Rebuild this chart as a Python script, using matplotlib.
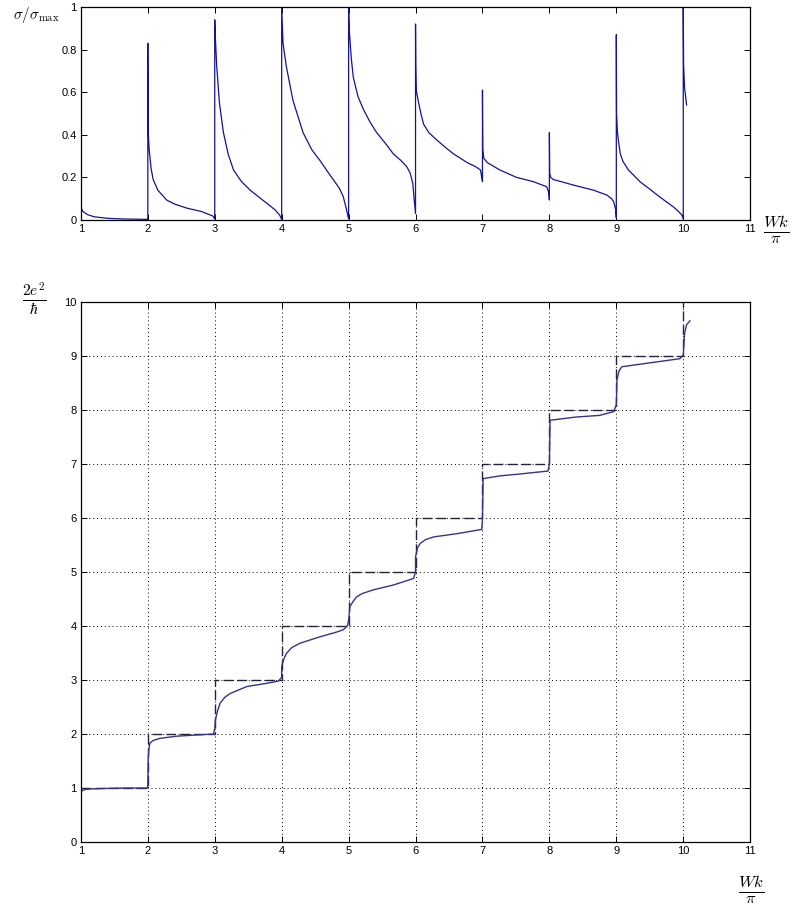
import numpy as np
import matplotlib.pyplot as plt

plt.rcParams['font.family'] = ['Liberation Sans', 'DejaVu Sans']
plt.rcParams['mathtext.fontset'] = 'cm'

# normalised cross section sigma/sigma_max, (x, y) pairs
sig_pts = [
    (1.0, 0.06), (1.03, 0.04), (1.1, 0.025), (1.2, 0.015), (1.4, 0.008),
    (1.6, 0.005), (1.8, 0.004), (1.99, 0.003),
    (2.0, 0.003), (2.0, 0.83), (2.003, 0.57), (2.006, 0.42), (2.02, 0.33),
    (2.05, 0.24), (2.08, 0.19), (2.15, 0.14), (2.28, 0.094), (2.4, 0.075),
    (2.58, 0.056), (2.8, 0.04), (2.97, 0.019), (3.0, 0.005),
    (3.0, 0.94), (3.01, 0.85), (3.03, 0.72), (3.07, 0.55), (3.13, 0.41),
    (3.2, 0.31), (3.28, 0.235), (3.4, 0.18), (3.53, 0.14), (3.65, 0.11),
    (3.78, 0.078), (3.9, 0.048), (3.97, 0.023), (4.0, 0.003),
    (4.0, 1.0), (4.02, 0.83), (4.07, 0.72), (4.17, 0.56), (4.32, 0.41),
    (4.45, 0.33), (4.57, 0.28), (4.68, 0.23), (4.77, 0.19), (4.86, 0.15),
    (4.92, 0.11), (4.97, 0.047), (5.0, 0.005),
    (5.0, 1.0), (5.01, 0.89), (5.04, 0.76), (5.07, 0.67), (5.14, 0.58),
    (5.22, 0.52), (5.32, 0.46), (5.42, 0.41), (5.55, 0.36), (5.67, 0.31),
    (5.78, 0.28), (5.87, 0.25), (5.92, 0.22), (5.96, 0.17), (5.98, 0.094),
    (6.0, 0.03),
    (6.0, 0.92), (6.003, 0.73), (6.01, 0.61), (6.04, 0.56), (6.08, 0.5),
    (6.12, 0.45), (6.2, 0.41), (6.32, 0.375), (6.45, 0.34), (6.57, 0.31),
    (6.77, 0.27), (6.9, 0.25), (6.97, 0.235), (6.99, 0.2), (7.0, 0.18),
    (7.0, 0.61), (7.005, 0.33), (7.02, 0.29), (7.07, 0.27), (7.26, 0.235),
    (7.51, 0.2), (7.76, 0.18), (7.96, 0.156), (7.99, 0.13), (8.0, 0.094),
    (8.0, 0.41), (8.005, 0.22), (8.02, 0.2), (8.06, 0.19), (8.36, 0.164),
    (8.66, 0.14), (8.86, 0.117), (8.93, 0.1), (8.96, 0.086), (8.99, 0.05),
    (9.0, 0.01),
    (9.0, 0.87), (9.004, 0.5), (9.015, 0.42), (9.03, 0.375), (9.06, 0.31),
    (9.1, 0.275), (9.18, 0.235), (9.26, 0.21), (9.36, 0.178), (9.5, 0.145),
    (9.6, 0.12), (9.75, 0.085), (9.85, 0.062), (9.93, 0.04), (9.98, 0.023),
    (10.0, 0.005),
    (10.0, 1.0), (10.005, 0.73), (10.02, 0.62), (10.035, 0.58), (10.05, 0.54),
]

# conductance in units of 2e^2/h, lower panel
g_pts = [
    (1.0, 0.93), (1.03, 0.96), (1.1, 0.98), (1.3, 0.99), (1.6, 1.0), (1.99, 1.0),
    (2.0, 1.05), (2.005, 1.52), (2.015, 1.7), (2.03, 1.83), (2.08, 1.88),
    (2.18, 1.92), (2.43, 1.96), (2.7, 1.98), (2.98, 2.0),
    (3.0, 2.1), (3.01, 2.26), (3.04, 2.42), (3.08, 2.57), (3.15, 2.68),
    (3.23, 2.75), (3.48, 2.88), (3.78, 2.94), (3.95, 2.98),
    (4.0, 3.05), (4.0, 3.25), (4.03, 3.38), (4.07, 3.49), (4.15, 3.6),
    (4.27, 3.68), (4.57, 3.8), (4.8, 3.88), (4.92, 3.93), (4.98, 4.0),
    (5.0, 4.1), (5.02, 4.36), (5.07, 4.46), (5.12, 4.54), (5.2, 4.6),
    (5.37, 4.67), (5.67, 4.76), (5.97, 4.88),
    (6.0, 5.0), (6.0, 5.28), (6.03, 5.45), (6.07, 5.53), (6.15, 5.6),
    (6.27, 5.65), (6.62, 5.71), (6.99, 5.79),
    (7.0, 6.0), (7.01, 6.73), (7.26, 6.78), (7.6, 6.82), (7.98, 6.87),
    (8.0, 7.0), (8.01, 7.81), (8.4, 7.87), (8.75, 7.9), (8.96, 7.97),
    (9.0, 8.1), (9.01, 8.56), (9.04, 8.72), (9.08, 8.8), (9.25, 8.83),
    (9.6, 8.89), (9.95, 8.95),
    (10.0, 9.02), (10.02, 9.42), (10.05, 9.58), (10.1, 9.65),
]

# ideal staircase (number of open channels)
step_x = [1, 2, 3, 4, 5, 6, 7, 8, 9, 10]
step_y = [1, 2, 3, 4, 5, 6, 7, 8, 9, 10]

xticks = list(range(1, 12))

sig_x, sig_y = zip(*sig_pts)
g_x, g_y = zip(*g_pts)

fig = plt.figure(figsize=(7.93, 9.11), dpi=100)
ax1 = fig.add_axes([0.102, 0.7585, 0.844, 0.2338])
ax2 = fig.add_axes([0.102, 0.0757, 0.844, 0.5928])

for ax in (ax1, ax2):
    ax.set_xlim(1, 11)
    ax.set_xticks(xticks)
    ax.tick_params(direction='in', top=True, right=True, labelsize=8,
                   length=4, width=0.7, pad=3)
    for s in ax.spines.values():
        s.set_linewidth(0.9)

# upper panel
ax1.plot(sig_x, sig_y, color='#14148f', lw=0.9)
ax1.set_ylim(0, 1)
ax1.set_yticks([0, 0.2, 0.4, 0.6, 0.8, 1])
ax1.set_yticklabels(['0', '0.2', '0.4', '0.6', '0.8', '1'])
fig.text(36 / 793, 1 - 15 / 911, r'$\sigma/\sigma_{\max}$', fontsize=11,
         ha='center', va='center')
fig.text(776 / 793, 1 - 229 / 911, r'$\frac{Wk}{\pi}$', fontsize=17,
         ha='center', va='center')

# lower panel
ax2.step(step_x, step_y, where='post', color='#22223a', lw=1.0,
         dashes=(7, 3))
ax2.plot(g_x, g_y, color='#34348a', lw=1.0)
ax2.set_ylim(0, 10)
ax2.set_yticks(range(0, 11))
ax2.grid(True, color='black', linestyle=(0, (1, 3)), lw=0.7)
fig.text(34 / 793, 1 - 299 / 911, r'$\frac{2e^2}{\hbar}$', fontsize=16,
         ha='center', va='center')
fig.text(751 / 793, 1 - 889 / 911, r'$\frac{Wk}{\pi}$', fontsize=17,
         ha='center', va='center')

fig.savefig('out.png', dpi=100)
